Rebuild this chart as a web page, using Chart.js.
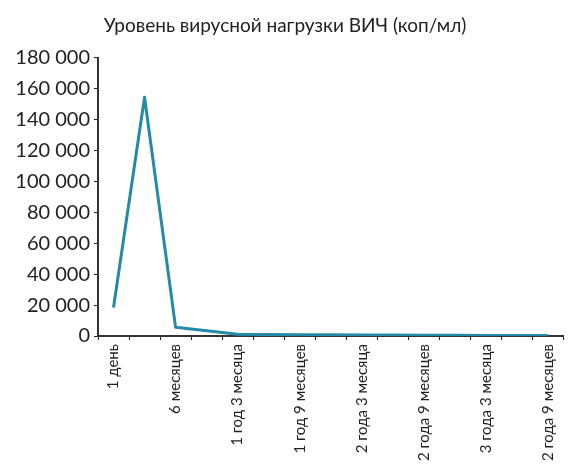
<!DOCTYPE html>
<html>
<head>
<meta charset="utf-8">
<script src="https://cdn.jsdelivr.net/npm/chart.js@4.4.0/dist/chart.umd.min.js"></script>
<style>
  html, body { margin: 0; padding: 0; background: #fff; }
  #wrap { width: 570px; height: 472px; }
</style>
</head>
<body>
<div id="wrap"><canvas id="myLineChart" width="570" height="472"></canvas></div>
<script>
// category labels (every other one is shown on the axis)
var periods = [
  '1 день', '3 месяца', '6 месяцев', '1 год', '1 год 3 месяца',
  '1 год 6 месяцев', '1 год 9 месяцев', '2 года', '2 года 3 месяца',
  '2 года 6 месяцев', '2 года 9 месяцев', '3 года', '3 года 3 месяца',
  '3 года 6 месяцев', '2 года 9 месяцев'
];
// viral load, copies/ml
var viralLoad = [18500, 154500, 5600, 3400, 1100, 950, 850, 750, 650, 600, 500, 450, 400, 350, 300];
var yTicks = [0, 20000, 40000, 60000, 80000, 100000, 120000, 140000, 160000, 180000];

var ctxLine = document.getElementById('myLineChart').getContext('2d');
var myChart = new Chart(ctxLine, {
  type: 'line',
  data: {
    labels: periods,
    datasets: [{
      label: 'ВИЧ',
      data: viralLoad,
      borderColor: '#2589a8',
      borderWidth: 3,
      borderJoinStyle: 'round',
      pointRadius: 0,
      tension: 0,
      fill: false
    }]
  },
  options: {
    responsive: false,
    animation: false,
    layout: { padding: { top: 8, right: 0, left: 0, bottom: 0 } },
    plugins: {
      legend: { display: false },
      tooltip: { enabled: false },
      title: {
        display: true,
        text: 'Уровень вирусной нагрузки ВИЧ (коп/мл)',
        color: '#222',
        font: { family: 'Lato', size: 19, weight: 'normal' },
        padding: { top: 6, bottom: 21 }
      }
    },
    scales: {
      x: {
        type: 'category',
        offset: true,
        grid: { display: true, drawOnChartArea: false, drawTicks: true, tickLength: 4, color: '#222', offset: true },
        border: { display: true, color: '#333', width: 2 },
        ticks: {
          autoSkip: false,
          minRotation: 90,
          maxRotation: 90,
          padding: 4,
          color: '#222',
          font: { family: 'Lato', size: 15 },
          callback: function (v, i) { return i % 2 === 0 ? periods[i] : ''; }
        },
        afterFit: function (axis) { axis.height = 136; }
      },
      y: {
        min: 0,
        max: 180000,
        afterBuildTicks: function (axis) { axis.ticks = yTicks.map(function (v) { return { value: v }; }); },
        grid: { display: true, drawOnChartArea: false, drawTicks: true, tickLength: 4, color: '#222' },
        border: { display: true, color: '#333', width: 2 },
        ticks: {
          padding: 4,
          color: '#222',
          font: { family: 'Lato', size: 20 },
          callback: function (v) { return String(v).replace(/\B(?=(\d{3})+(?!\d))/g, ' '); }
        },
        afterFit: function (axis) { axis.width = 98; }
      }
    }
  }
});
</script>
</body>
</html>
